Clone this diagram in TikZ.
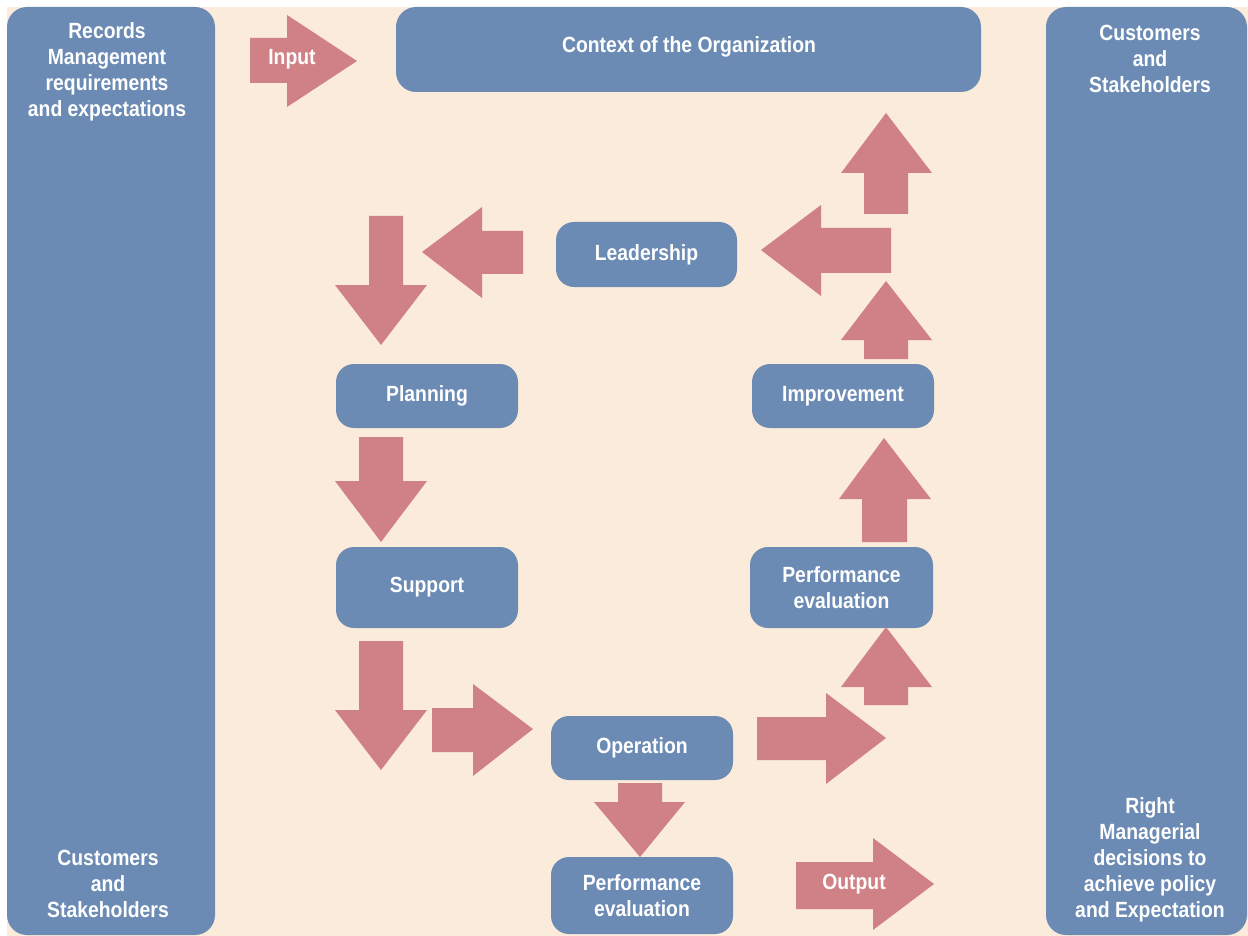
\documentclass[tikz,border=0pt]{standalone}
\usepackage{fontspec}
\setmainfont{Liberation Sans}[FakeStretch=0.88]
\definecolor{boxblue}{HTML}{6B8BB4}
\definecolor{arrpink}{HTML}{CF8186}
\definecolor{beige}{HTML}{FAEBDA}
\newcommand{\dgfont}{\bfseries\fontsize{22}{26}\selectfont}
\begin{document}
\begin{tikzpicture}[x=1pt,y=-1pt,
  box/.style={fill=boxblue, rounded corners=18pt, text=white, font=\dgfont, align=center, inner sep=0pt},
  panel/.style={fill=boxblue, rounded corners=20pt},
  ptext/.style={text=white, font=\dgfont, align=center, inner sep=0pt},
  arr/.style={fill=arrpink}]
\useasboundingbox (0,0) rectangle (1248,936);
\fill[white] (0,0) rectangle (1248,936);
\fill[beige] (7,7) rectangle (1248,936);
% side panels
\fill[panel] (7,7) rectangle (215,935);
\fill[panel] (1046,7) rectangle (1247,935);
\node[ptext] (lt) at (107,72) {Records\\Management\\requirements\\and expectations};
\node[ptext] (lb) at (108,884) {Customers\\and\\Stakeholders};
\node[ptext] (rt) at (1150,59) {Customers\\and\\Stakeholders};
\node[ptext] (rb) at (1150,860) {Right\\Managerial\\decisions to\\achieve policy\\and Expectation};
% boxes
\node[box, rounded corners=20pt, minimum width=585pt, minimum height=85pt] (ctx) at (688.5,49.5) {};
\node[ptext] at (689,47) {Context of the Organization};
\node[box, minimum width=181pt, minimum height=65pt] (lead) at (646.5,254.5) {Leadership};
\node[box, minimum width=182pt, minimum height=64pt] (plan) at (427,396) {Planning};
\node[box, minimum width=182pt, minimum height=81pt] (supp) at (427,587.5) {Support};
\node[box, minimum width=182pt, minimum height=64pt] (oper) at (642,748) {Operation};
\node[box, minimum width=182pt, minimum height=77pt] (perfb) at (642,895.5) {Performance\\evaluation};
\node[box, minimum width=182pt, minimum height=64pt] (impr) at (843,396) {Improvement};
\node[box, minimum width=183pt, minimum height=81pt] (perfr) at (841.5,587.5) {Performance\\evaluation};
% block arrows
% Input
\fill[arr] (250,38) -- (287,38) -- (287,15) -- (357,61) -- (287,107) -- (287,83) -- (250,83) -- cycle;
\node[ptext] (inlbl) at (292,59) {Input};
% left arrow towards planning side
\fill[arr] (523,231) -- (482,231) -- (482,207) -- (422,252) -- (482,298) -- (482,274) -- (523,274) -- cycle;
% down arrow above planning
\fill[arr] (369,216) -- (403,216) -- (403,285) -- (427,285) -- (381,345) -- (335,285) -- (369,285) -- cycle;
% planning -> support
\fill[arr] (359,437) -- (403,437) -- (403,481) -- (427,481) -- (381,542) -- (335,481) -- (359,481) -- cycle;
% below support
\fill[arr] (359,641) -- (403,641) -- (403,710) -- (427,710) -- (381,770) -- (335,710) -- (359,710) -- cycle;
% right arrow to operation
\fill[arr] (432,708) -- (473,708) -- (473,684) -- (533,729) -- (473,776) -- (473,752) -- (432,752) -- cycle;
% operation -> performance (bottom)
\fill[arr] (618,783) -- (662,783) -- (662,802) -- (685,802) -- (640,857) -- (594,802) -- (618,802) -- cycle;
% right arrow from operation
\fill[arr] (757,717) -- (826,717) -- (826,693) -- (886,738) -- (826,784) -- (826,760) -- (757,760) -- cycle;
% up to performance (right)
\fill[arr] (864,705) -- (908,705) -- (908,687) -- (932,687) -- (886,627) -- (841,687) -- (864,687) -- cycle;
% performance -> improvement
\fill[arr] (862,542) -- (907,542) -- (907,499) -- (931,499) -- (884,438) -- (839,499) -- (862,499) -- cycle;
% up above improvement
\fill[arr] (864,359) -- (908,359) -- (908,340) -- (932,340) -- (886,281) -- (841,340) -- (864,340) -- cycle;
% left arrow to leadership
\fill[arr] (891,228) -- (821,228) -- (821,205) -- (761,250) -- (821,296) -- (821,273) -- (891,273) -- cycle;
% up to context
\fill[arr] (864,214) -- (908,214) -- (908,173) -- (932,173) -- (886,113) -- (841,173) -- (864,173) -- cycle;
% Output
\fill[arr] (796,862) -- (873,862) -- (873,838) -- (934,884) -- (873,930) -- (873,909) -- (796,909) -- cycle;
\node[ptext] (outlbl) at (854,884) {Output};
\end{tikzpicture}
\end{document}
